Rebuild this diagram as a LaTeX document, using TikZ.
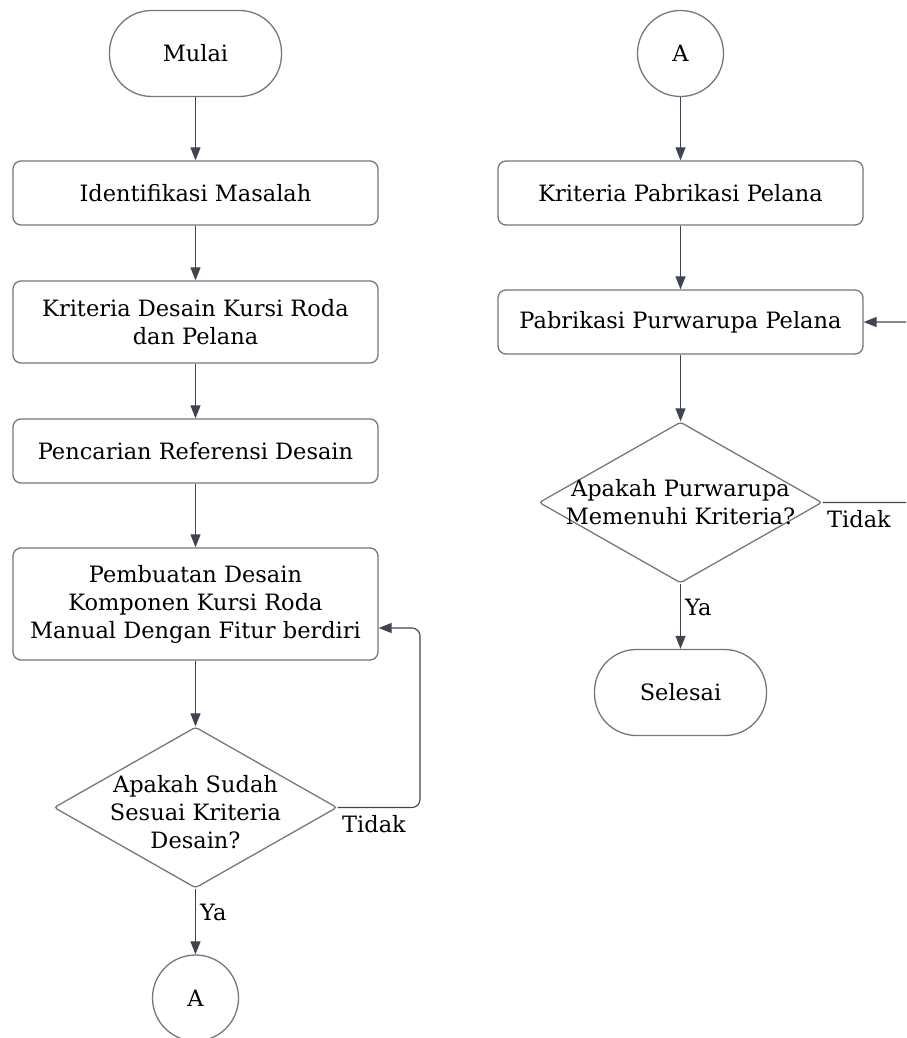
\documentclass[tikz,border=0pt]{standalone}
\usepackage{fontspec}
\setmainfont{DejaVu Serif}
\usetikzlibrary{shapes.geometric,arrows.meta}

\definecolor{garis}{HTML}{3F4550}
\definecolor{tepi}{HTML}{74777D}

\tikzset{
 teks/.style={font=\fontsize{22.5}{28}\selectfont, align=center, text=black},
 proses/.style={teks, draw=tepi, line width=1.3pt, rounded corners=8pt, minimum width=365pt, inner sep=0pt},
 terminal/.style={teks, draw=tepi, line width=1.3pt, rounded corners=42pt, minimum width=172pt, minimum height=86pt},
 konektor/.style={teks, draw=tepi, line width=1.3pt, circle, minimum size=86pt, inner sep=0pt},
 keputusan/.style={draw=tepi, line width=1.3pt, diamond, minimum width=283pt, minimum height=161pt, inner sep=0pt, rounded corners=3pt},
 panah/.style={draw=garis, line width=1.1pt, -{Triangle[length=13pt,width=10pt]}},
 cabang/.style={teks, inner sep=4pt}
}

\begin{document}
\begin{tikzpicture}[x=1pt, y=-1pt]
 \useasboundingbox (0,0) rectangle (906,1038);
 \clip (0,0) rectangle (906,1038);

 \node[terminal] (mulai) at (195.5,53.5) {Mulai};
 \node[proses, minimum height=64pt] (identifikasi) at (195.5,193) {Identifikasi Masalah};
 \node[proses, minimum height=82pt] (kriteriaDesain) at (195.5,322) {Kriteria Desain Kursi Roda\\dan Pelana};
 \node[proses, minimum height=64pt] (pencarian) at (195.5,451) {Pencarian Referensi Desain};
 \node[proses, minimum height=112pt] (pembuatan) at (195.5,604) {Pembuatan Desain\\Komponen Kursi Roda\\Manual Dengan Fitur berdiri};
 \node[keputusan, label={[teks, yshift=-5pt]center:Apakah Sudah\\Sesuai Kriteria\\Desain?}] (cekDesain) at (195.5,807.5) {};
 \node[konektor] (konA1) at (195.5,998) {A};

 \node[konektor] (konA2) at (680.5,53.5) {A};
 \node[proses, minimum height=64pt] (kriteriaPabrikasi) at (680.5,193) {Kriteria Pabrikasi Pelana};
 \node[proses, minimum height=64pt] (pabrikasi) at (680.5,322) {Pabrikasi Purwarupa Pelana};
 \node[keputusan, label={[teks]center:Apakah Purwarupa\\Memenuhi Kriteria?}] (cekPurwarupa) at (680.5,502.5) {};
 \node[terminal] (selesai) at (680.5,692.5) {Selesai};

 \draw[panah] (mulai) -- (identifikasi);
 \draw[panah] (identifikasi) -- (kriteriaDesain);
 \draw[panah] (kriteriaDesain) -- (pencarian);
 \draw[panah] (pencarian) -- (pembuatan);
 \draw[panah] (pembuatan) -- (cekDesain);
 \draw[panah] (cekDesain) -- node[cabang, right, pos=0.36] {Ya} (konA1);
 \draw[panah, rounded corners=8pt] (cekDesain.east) -- node[cabang, below right, pos=0, yshift=-3pt] {Tidak} (420,807.5) |- ([yshift=-24pt]pembuatan.east);

 \draw[panah] (konA2) -- (kriteriaPabrikasi);
 \draw[panah] (kriteriaPabrikasi) -- (pabrikasi);
 \draw[panah] (pabrikasi) -- (cekPurwarupa);
 \draw[panah] (cekPurwarupa) -- node[cabang, right, pos=0.36] {Ya} (selesai);
 \draw[panah, rounded corners=8pt] (cekPurwarupa.east) -- node[cabang, below right, pos=0, yshift=-3pt] {Tidak} (930,502.5) |- (pabrikasi.east);
\end{tikzpicture}
\end{document}
